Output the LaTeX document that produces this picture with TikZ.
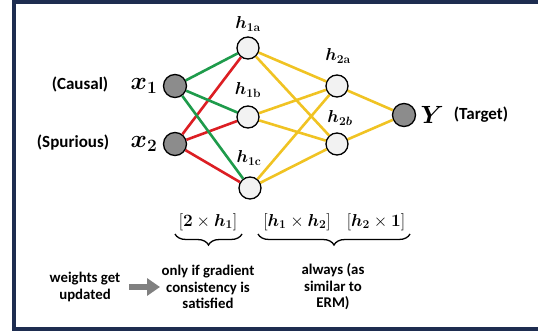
\documentclass[tikz,border=0pt]{standalone}
\usepackage{amsmath}
\usepackage{amssymb}
\usepackage{bm}
\usepackage[no-math]{fontspec}
\setmainfont{Carlito}
\usetikzlibrary{arrows.meta,decorations.pathreplacing,positioning}

\definecolor{wgreen}{RGB}{30,155,75}
\definecolor{wred}{RGB}{220,30,35}
\definecolor{wgold}{RGB}{240,195,35}
\definecolor{navy}{RGB}{30,45,80}

\begin{document}
\begin{tikzpicture}[
    x=1pt, y=-1pt,
    neuron/.style={circle, draw, line width=1.3pt, minimum size=22pt, inner sep=0pt, fill=gray!10},
    io/.style={neuron, minimum size=23pt, fill=black!45},
    hlabel/.style={font=\fontsize{17}{17}\selectfont},
    varlabel/.style={font=\fontsize{27}{27}\selectfont},
    role/.style={font=\fontsize{17}{17}\selectfont\bfseries},
    note/.style={align=center, font=\fontsize{14.8}{16.5}\selectfont\bfseries},
    dims/.style={font=\fontsize{16.5}{16.5}\selectfont},
    wire/.style={line width=2.6pt},
    brace/.style={decorate, decoration={brace, mirror, amplitude=11pt}, line width=1.3pt}
]
\useasboundingbox (0,0) rectangle (538,334);
\draw[navy, line width=3.6pt] (545,1.8) -- (14,1.8) -- (14,329) -- (545,329);

% neurons
\node[io] (x1) at (175,86) {};
\node[io] (x2) at (175,144) {};
\node[neuron] (h1a) at (248,48) {};
\node[neuron] (h1b) at (248,117) {};
\node[neuron] (h1c) at (250,188) {};
\node[neuron] (h2a) at (337,86) {};
\node[neuron] (h2b) at (337,144) {};
\node[io] (y) at (404,115) {};

% weights
\foreach \h in {h1a,h1b,h1c} {
  \draw[wire, wgreen] (x1) -- (\h);
  \draw[wire, wred] (x2) -- (\h);
  \foreach \k in {h2a,h2b}
    \draw[wire, wgold] (\h) -- (\k);
}
\draw[wire, wgold] (h2a) -- (y);
\draw[wire, wgold] (h2b) -- (y);

% labels
\node[hlabel] (l1a) at (248,24) {$\bm{h}_{\mathbf{1a}}$};
\node[hlabel] (l1b) at (248,90) {$\bm{h}_{\mathbf{1b}}$};
\node[hlabel] (l1c) at (249,158) {$\bm{h}_{\mathbf{1c}}$};
\node[hlabel] (l2a) at (338,56) {$\bm{h}_{\mathbf{2a}}$};
\node[hlabel] (l2b) at (340,118) {$\bm{h}_{\bm{2b}}$};
\node[varlabel, left=2pt of x1] (lx1) {$\bm{x}_{\mathbf{1}}$};
\node[varlabel, left=2pt of x2] (lx2) {$\bm{x}_{\mathbf{2}}$};
\node[varlabel, right=1pt of y] (ly) {$\bm{Y}$};
\node[role] (causal) at (80,84) {(Causal)};
\node[role] (spur) at (73,143) {(Spurious)};
\node[role] (target) at (481,115) {(Target)};

% weight matrices
\node[dims] (m1) at (208,222) {$[\mathbf{2}\times\bm{h}_{\mathbf{1}}]$};
\node[dims] (m2) at (297,222) {$[\bm{h}_{\mathbf{1}}\times\bm{h}_{\mathbf{2}}]$};
\node[dims] (m3) at (376,222) {$[\bm{h}_{\mathbf{2}}\times\mathbf{1}]$};
\coordinate (b1l) at (175,234);
\coordinate (b1r) at (242,234);
\coordinate (b2l) at (258,234);
\coordinate (b2r) at (410,234);
\draw[brace] (b1l) -- (b1r);
\draw[brace] (b2l) -- (b2r);

\node[note] (cond) at (208,287) {only if gradient\\consistency is\\satisfied};
\node[note] (always) at (333,287) {always (as\\similar to\\ERM)};
\node[note] (upd) at (85,287) {weights get\\updated};
\coordinate (arrs) at (129,287);
\coordinate (arre) at (160,287);
\draw[gray, line width=6pt, -{Triangle[width=17pt,length=13pt]}] (arrs) -- (arre);
\end{tikzpicture}
\end{document}
